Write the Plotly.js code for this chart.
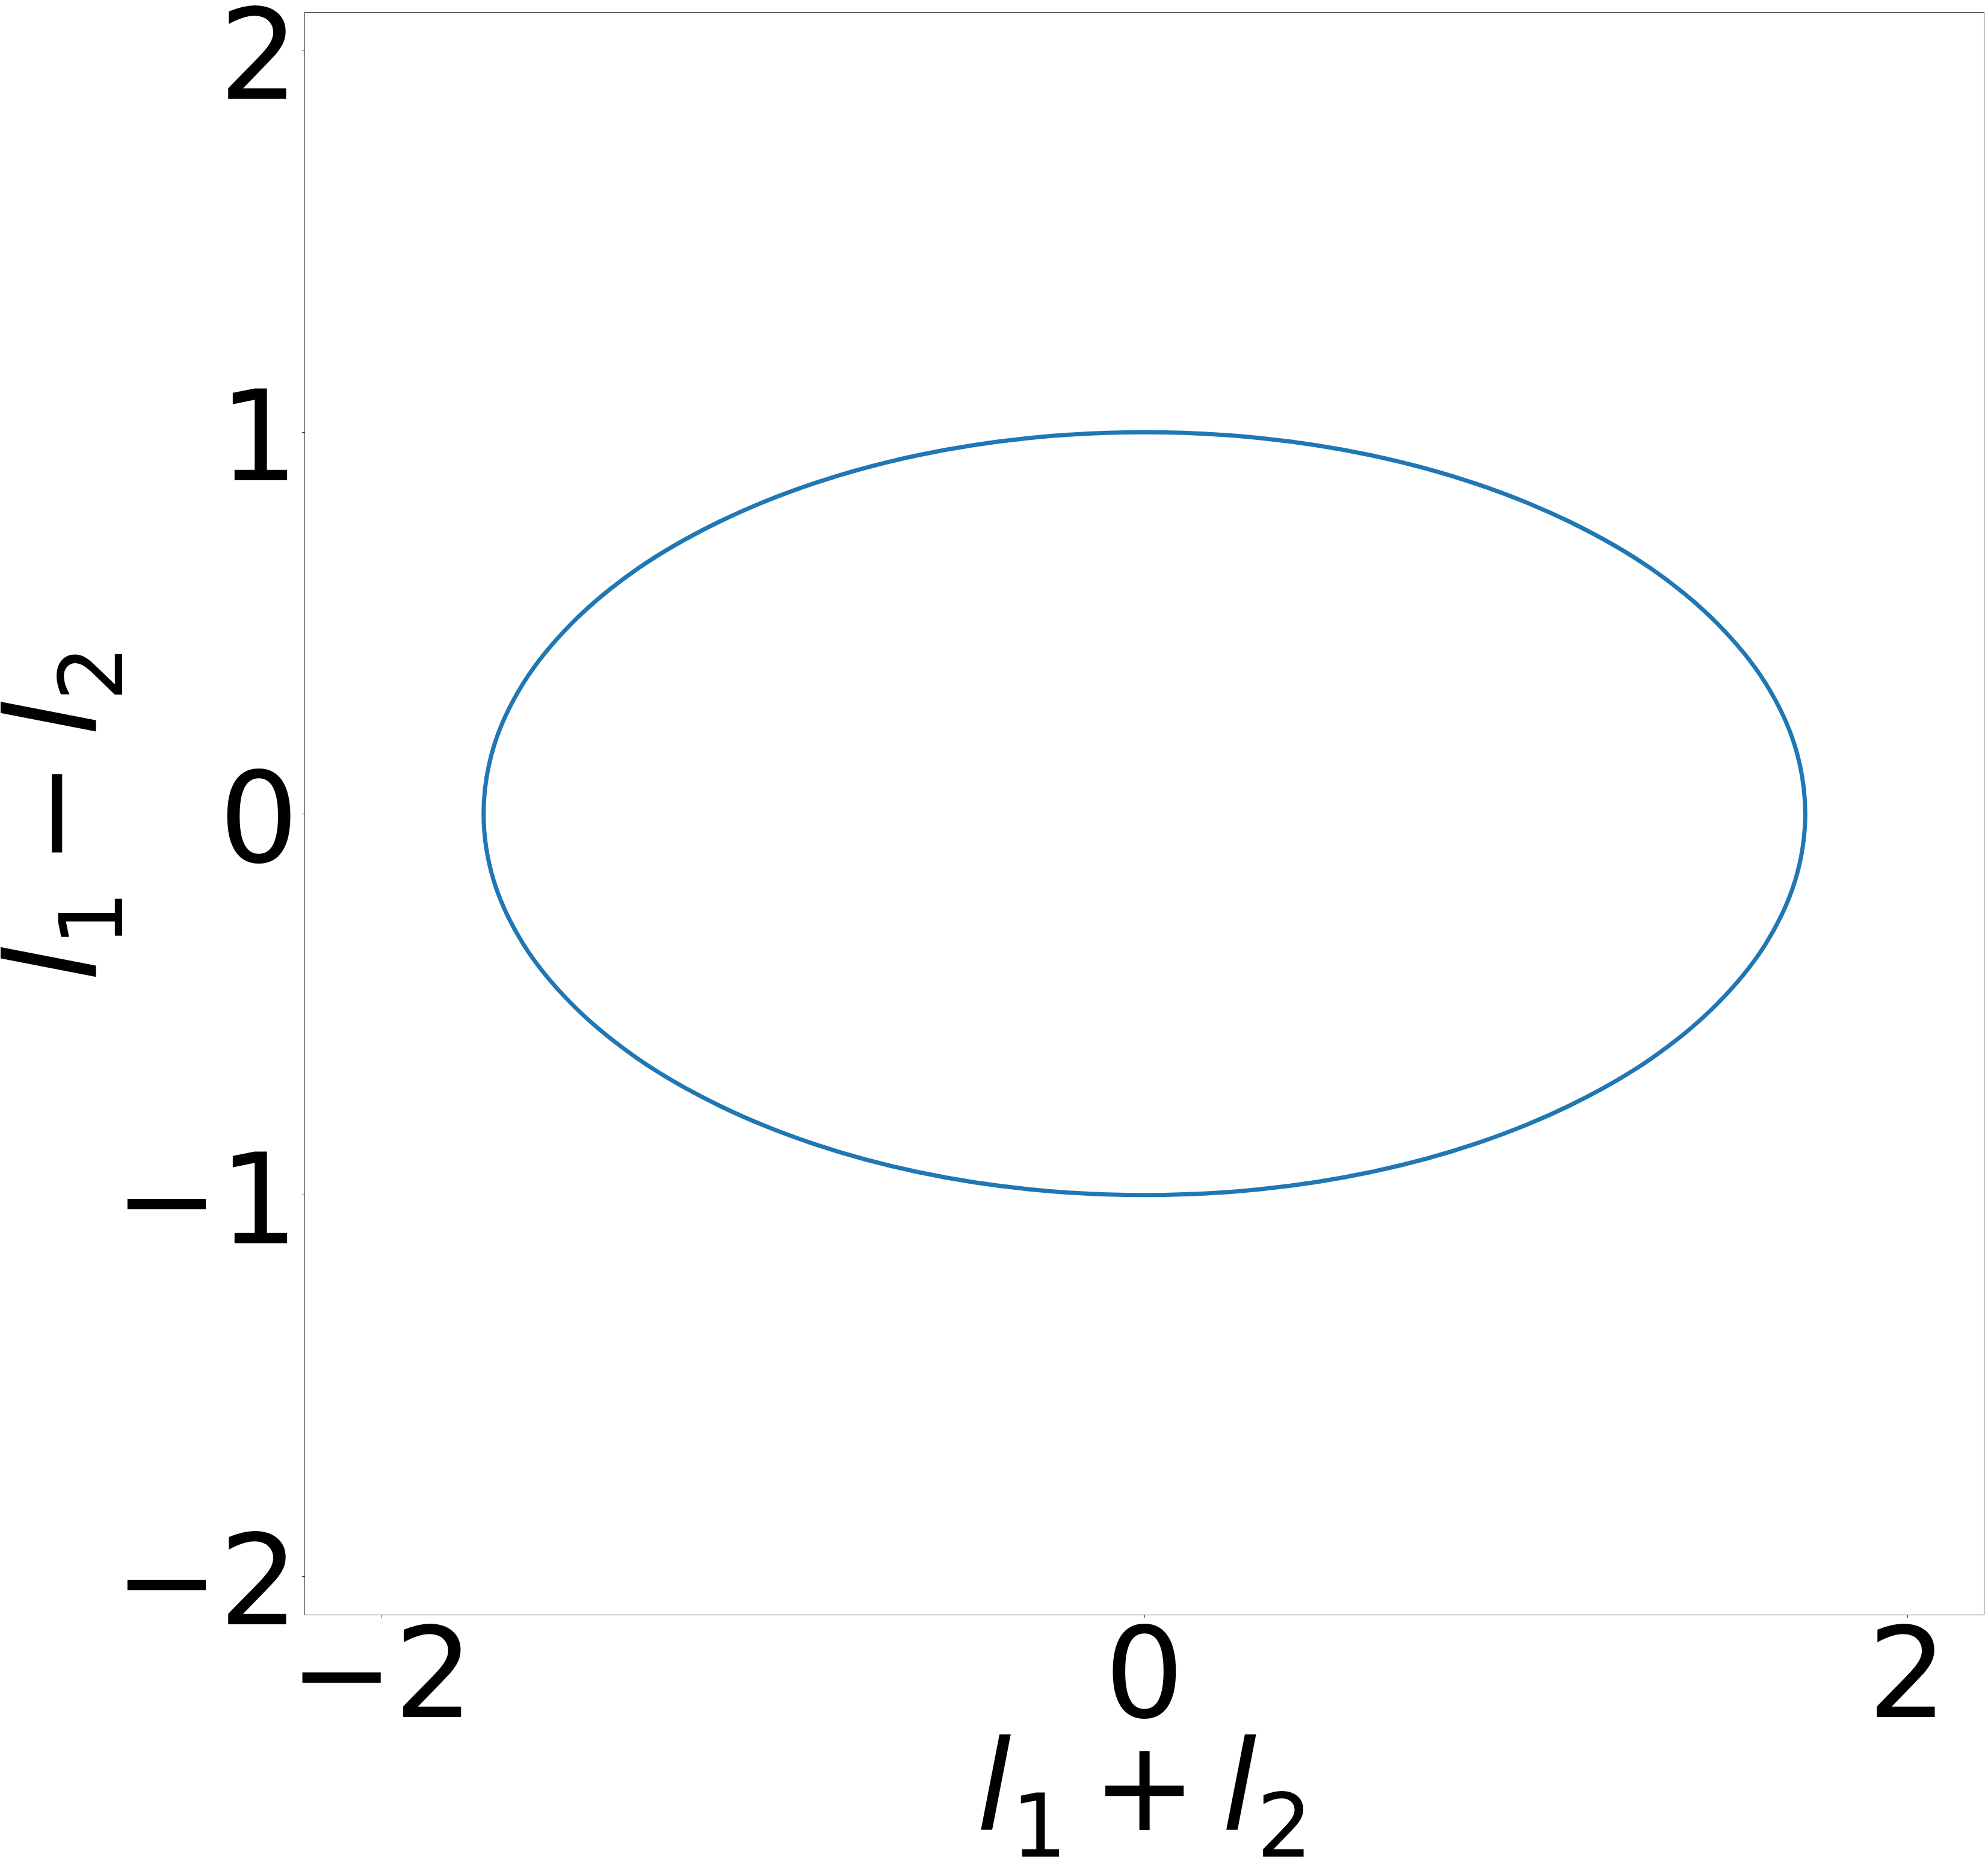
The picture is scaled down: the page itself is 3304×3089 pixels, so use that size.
<!DOCTYPE html>
<html>
<head>
<meta charset="utf-8">
<script src="https://cdn.plot.ly/plotly-3.0.1.min.js"></script>
<style>
  html, body { margin: 0; padding: 0; background: #ffffff; }
  #chart { width: 3304px; height: 3089px; }
</style>
</head>
<body>
<div id="chart"></div>
<script>
// Points (l1 + l2, l1 - l2), starting at the top
const sumValues = [
  0.000, -0.301, -0.592, -0.866, -1.113, -1.327, -1.500, -1.628, -1.706, -1.732,
  -1.706, -1.628, -1.500, -1.327, -1.113, -0.866, -0.592, -0.301, 0.000,
  0.301, 0.592, 0.866, 1.113, 1.327, 1.500, 1.628, 1.706, 1.732,
  1.706, 1.628, 1.500, 1.327, 1.113, 0.866, 0.592, 0.301, 0.000
];
const diffValues = [
  1.000, 0.985, 0.940, 0.866, 0.766, 0.643, 0.500, 0.342, 0.174, 0.000,
  -0.174, -0.342, -0.500, -0.643, -0.766, -0.866, -0.940, -0.985, -1.000,
  -0.985, -0.940, -0.866, -0.766, -0.643, -0.500, -0.342, -0.174, 0.000,
  0.174, 0.342, 0.500, 0.643, 0.766, 0.866, 0.940, 0.985, 1.000
];
const xTickVals = [-2, 0, 2];
const xTickText = ['\u22122', '0', '2'];
const yTickVals = [-2, -1, 0, 1, 2];
const yTickText = ['\u22122', '\u22121', '0', '1', '2'];
const xTitle = '<i>l</i><sub>1</sub>\u2009+\u2009<i>l</i><sub>2</sub>';
const yTitle = '<i>l</i><sub>1</sub>\u2009\u2212\u2009<i>l</i><sub>2</sub>';

const FONT = 'DejaVu Sans, sans-serif';

const trace = {
  x: sumValues,
  y: diffValues,
  type: 'scatter',
  mode: 'lines',
  line: { color: '#1f77b4', width: 7, shape: 'spline', smoothing: 1 },
  hoverinfo: 'skip'
};

const axisCommon = {
  showgrid: false,
  zeroline: false,
  showline: true,
  mirror: true,
  linecolor: '#333333',
  linewidth: 1,
  ticks: 'outside',
  ticklen: 4,
  tickwidth: 1,
  tickcolor: '#333333',
  tickfont: { family: FONT, size: 208, color: '#000000' },
  ticklabeloverflow: 'allow',
  automargin: false
};

const layout = {
  width: 3304,
  height: 3089,
  autosize: false,
  paper_bgcolor: '#ffffff',
  plot_bgcolor: '#ffffff',
  showlegend: false,
  margin: { l: 507, r: 7, t: 21, b: 406, pad: 0 },
  xaxis: Object.assign({}, axisCommon, {
    range: [-2.2, 2.2],
    tickmode: 'array',
    tickvals: xTickVals,
    ticktext: xTickText,
    ticklabelstandoff: -85
  }),
  yaxis: Object.assign({}, axisCommon, {
    range: [-2.1, 2.1],
    tickmode: 'array',
    tickvals: yTickVals,
    ticktext: yTickText,
    ticklabelstandoff: -36,
    ticklabelshift: 7
  }),
  annotations: [
    {
      text: xTitle, xref: 'paper', yref: 'paper', x: 0.5, y: 0,
      xanchor: 'center', yanchor: 'top', yshift: -163, showarrow: false,
      font: { family: FONT, size: 208, color: '#000000' }
    },
    {
      text: yTitle, xref: 'paper', yref: 'paper', x: 0, y: 0.5,
      xanchor: 'left', yanchor: 'middle', xshift: -543, textangle: -90, showarrow: false,
      font: { family: FONT, size: 208, color: '#000000' }
    }
  ]
};

Plotly.newPlot('chart', [trace], layout, { staticPlot: true, displayModeBar: false });
</script>
</body>
</html>
